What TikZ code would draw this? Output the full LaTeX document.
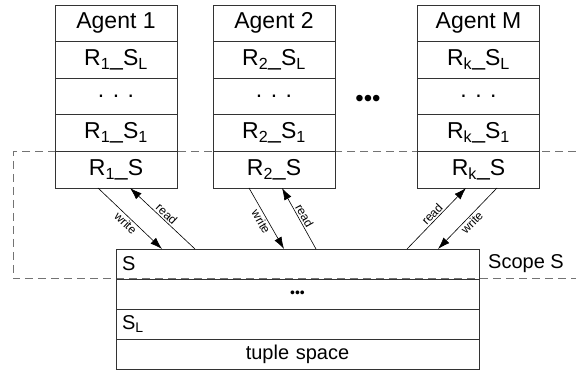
\documentclass[tikz,border=0pt]{standalone}
\usepackage{fontspec}
\setmainfont{Liberation Sans}
\usetikzlibrary{positioning,arrows.meta}

\tikzset{
  cell/.style={draw=black!80, line width=0.8pt, minimum width=122pt, minimum height=36.6pt,
    inner sep=0pt, outer sep=0pt, font=\fontsize{23}{27}\selectfont},
  tsrow/.style={draw=black!80, line width=0.8pt, minimum height=30pt, text width=351pt,
    inner xsep=6pt, inner ysep=0pt, outer sep=0pt, font=\fontsize{20}{24}\selectfont},
  rw/.style={-{Latex[length=12pt,width=8pt]}, line width=0.6pt},
  rwlabel/.style={sloped, inner sep=1.5pt, font=\fontsize{12}{14}\selectfont},
  scopeline/.style={dash pattern=on 8pt off 5pt, draw=black!55, line width=1pt}
}

\begin{document}
\begin{tikzpicture}[x=1pt, y=-1pt]
    \useasboundingbox (0,0) rectangle (576,371);
    % scope S
    \draw[scopeline] (576,152) -- (13,152) -- (13,279) -- (576,279);

    % agents
    \foreach \x/\k/\name/\id in {116/1/Agent 1/a1, 274/2/Agent 2/a2, 478.5/k/Agent M/am} {
        \node[cell] (\id h) at (\x,23.3) {\name};
        \node[cell, below=0pt of \id h] (\id l) {R\textsubscript{\k}\_S\textsubscript{L}};
        \node[cell, below=0pt of \id l] (\id d) {. . .};
        \node[cell, below=0pt of \id d] (\id o) {R\textsubscript{\k}\_S\textsubscript{1}};
        \node[cell, below=0pt of \id o] (\id s) {R\textsubscript{\k}\_S};
    }
    \node[font=\fontsize{24}{26}\selectfont, inner sep=0pt] (moredots) at (368,101) {\textbullet\textbullet\textbullet};

    % tuple space
    \node[tsrow, align=left] (tsS) at (297.5,264) {S};
    \node[tsrow, align=center, below=0pt of tsS, font=\fontsize{14}{16}\selectfont] (tsdots) {\textbullet\textbullet\textbullet};
    \node[tsrow, align=left, below=0pt of tsdots] (tsL) {S\textsubscript{L}};
    \node[tsrow, align=center, below=0pt of tsL] (tuple) {tuple space};
    \node[font=\fontsize{20}{24}\selectfont] (scopelbl) at (526,264) {Scope S};

    % write / read
    \draw[rw] ([xshift=-18pt]a1s.south) -- node[rwlabel, below] {write} ([xshift=46pt]tsS.north west);
    \draw[rw] ([xshift=79pt]tsS.north west) -- node[rwlabel, above] {read} ([xshift=14pt]a1s.south);
    \draw[rw] ([xshift=-25pt]a2s.south) -- node[rwlabel, below] {write} ([xshift=168pt]tsS.north west);
    \draw[rw] ([xshift=200pt]tsS.north west) -- node[rwlabel, above] {read} ([xshift=8pt]a2s.south);
    \draw[rw] ([xshift=291pt]tsS.north west) -- node[rwlabel, above] {read} ([xshift=-12.5pt]ams.south);
    \draw[rw] ([xshift=18.5pt]ams.south) -- node[rwlabel, below] {write} ([xshift=322pt]tsS.north west);
\end{tikzpicture}
\end{document}
